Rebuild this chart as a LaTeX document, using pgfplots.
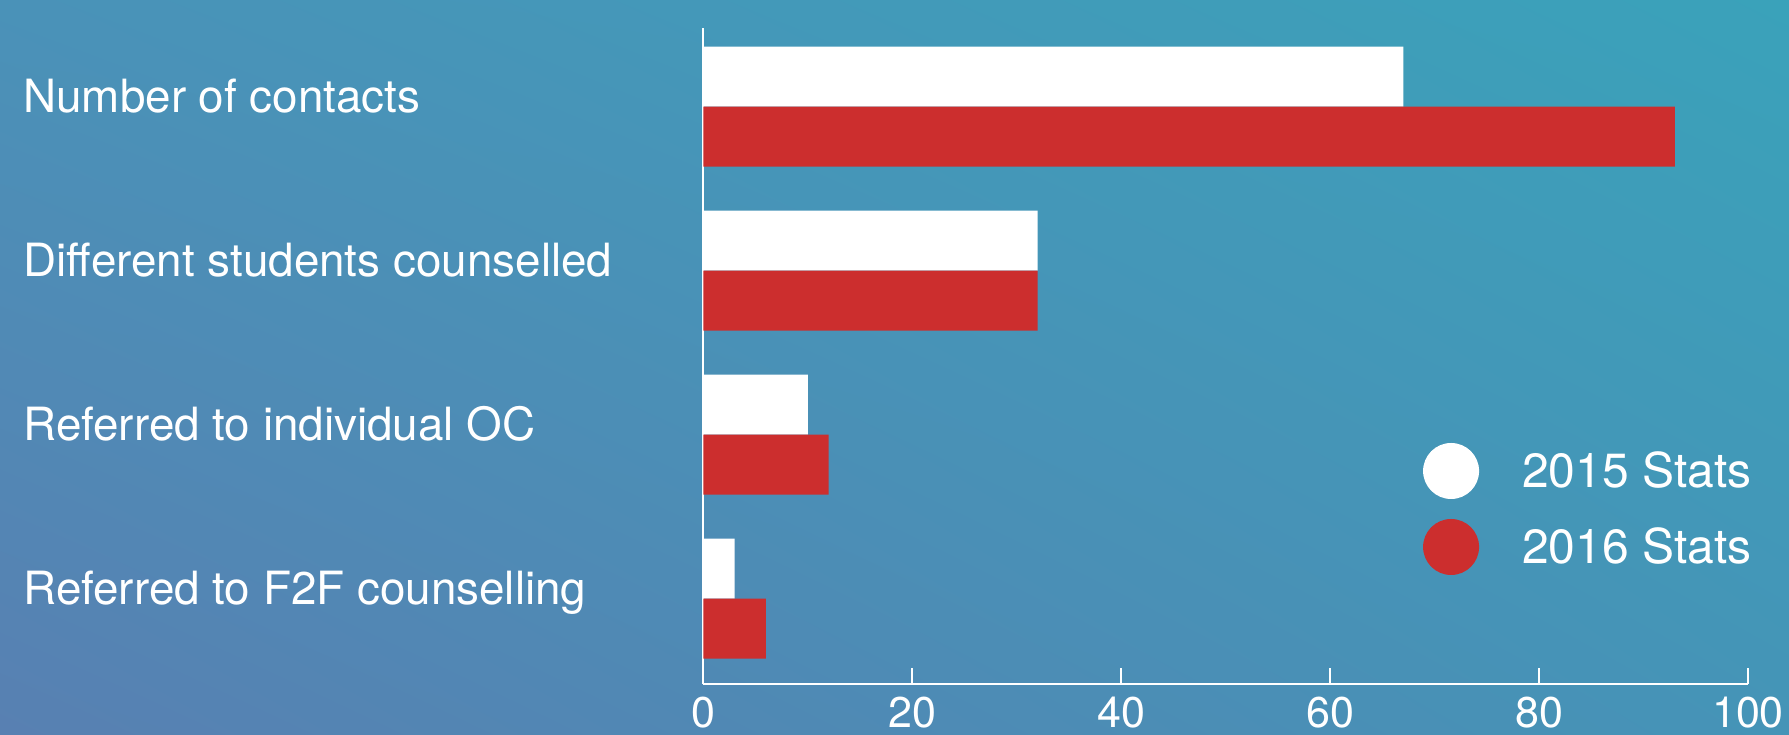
\documentclass[border=0pt]{standalone}
\usepackage{pgfplots}
\pgfplotsset{compat=1.18}
\usetikzlibrary{shadings}
\usepackage{fontspec}
\setmainfont{TeX Gyre Heros}
\definecolor{bgul}{RGB}{74,146,184}
\definecolor{bgur}{RGB}{58,162,186}
\definecolor{bgll}{RGB}{88,128,178}
\definecolor{bglr}{RGB}{69,148,183}
\definecolor{barred}{RGB}{204,46,46}
\begin{document}
\begin{tikzpicture}
\useasboundingbox (0,0) rectangle (894.5pt,367pt);
\shade[upper left=bgul, upper right=bgur, lower left=bgll, lower right=bglr] (0,0) rectangle (894.5pt,367pt);
\begin{axis}[
  at={(351.65pt,25pt)}, anchor=south west,
  width=522.35pt, height=328pt, scale only axis,
  xbar, bar width=0.366,
  xmin=0, xmax=100, ymin=-0.52, ymax=3.48,
  axis x line=bottom, axis y line=left,
  axis line style={white, line width=1pt, -},
  every outer x axis line/.append style={-},
  every outer y axis line/.append style={-},
  xtick={0,20,40,60,80,100},
  tick align=inside, major tick length=8pt,
  xtick style={white, line width=1pt},
  ytick={0,1,2,3},
  yticklabels={Referred to F2F counselling, Referred to individual OC, Different students counselled, Number of contacts},
  ytick style={draw=none},
  /pgf/number format/assume math mode=true,
  xticklabel style={anchor=north, inner sep=0pt, yshift=-6.5pt, text=white, font=\fontsize{21.5}{24}\selectfont},
  yticklabel style={anchor=base west, inner sep=0pt, xshift=-340.15pt, yshift=-2.8pt, text=white, font=\fontsize{22.9}{27}\selectfont},
  legend style={at={(0.689,0.3674)}, anchor=north west, draw=none, fill=none, inner sep=0pt, outer sep=0pt,
    text=white, font=\fontsize{24}{28}\selectfont, row sep=10pt, column sep=21.5pt,
    nodes={inner sep=0pt}},
  legend cell align=left,
]
\addplot[fill=white, draw=none, bar shift=0.183,
  legend image code/.code={\fill[white] (14pt,0pt) circle (14pt);}]
  coordinates {(67,3) (32,2) (10,1) (3,0)};
\addplot[fill=barred, draw=none, bar shift=-0.183,
  legend image code/.code={\fill[barred] (14pt,0pt) circle (14pt);}]
  coordinates {(93,3) (32,2) (12,1) (6,0)};
\legend{2015 Stats, 2016 Stats}
\end{axis}
\end{tikzpicture}
\end{document}
